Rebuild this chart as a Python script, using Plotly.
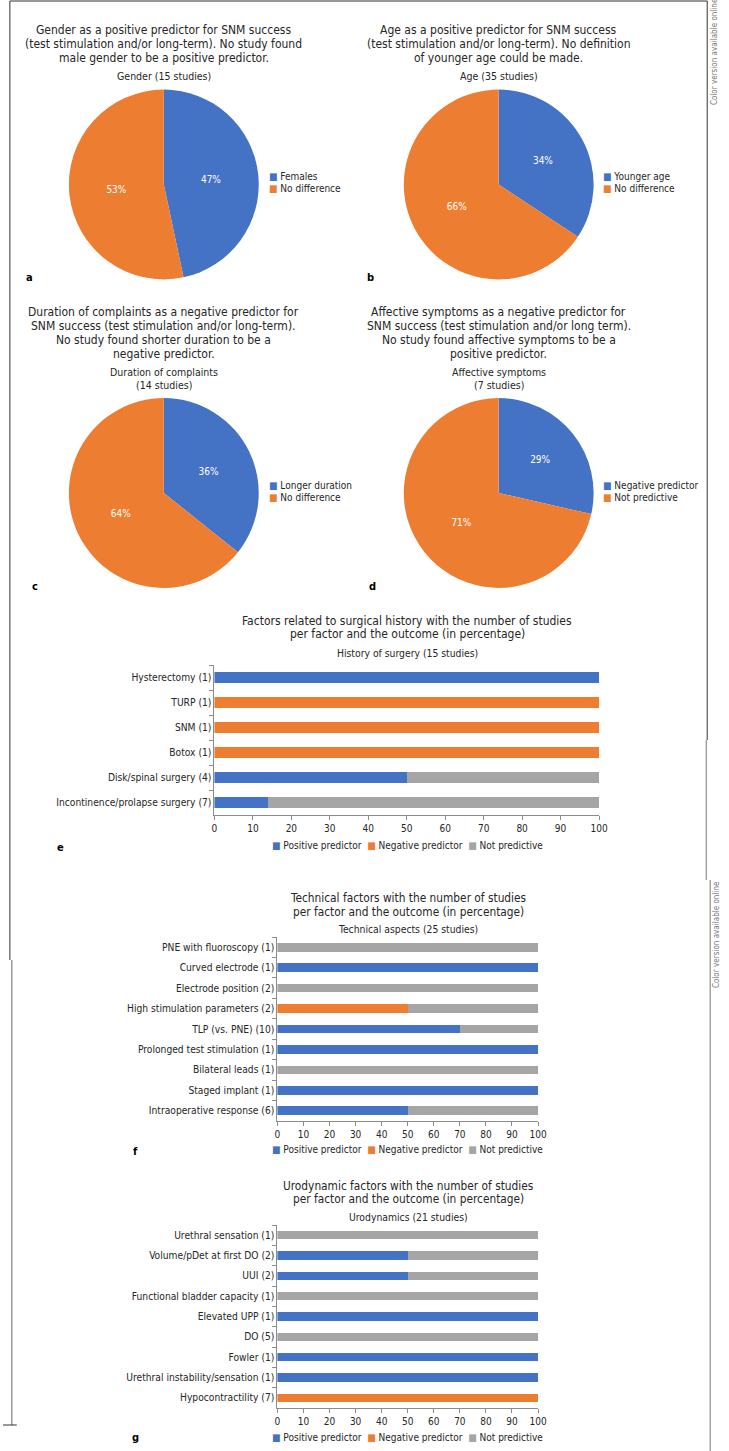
import plotly.graph_objects as go

W, H = 729, 1451
BLUE, ORANGE, GRAY = "#4472C4", "#ED7D31", "#A5A5A5"
FONT = "'Liberation Sans Narrow', 'DejaVu Sans Condensed', 'Open Sans', sans-serif"
TXT = "#262626"

# ---------------- data ----------------
pie_a_labels = ["Females", "No difference"]
pie_a_values = [7, 8]
pie_b_labels = ["Younger age", "No difference"]
pie_b_values = [12, 23]
pie_c_labels = ["Longer duration", "No difference"]
pie_c_values = [5, 9]
pie_d_labels = ["Negative predictor", "Not predictive"]
pie_d_values = [2, 5]

series_names = ["Positive predictor", "Negative predictor", "Not predictive"]
series_colors = [BLUE, ORANGE, GRAY]

e_cats = ["Hysterectomy (1)", "TURP (1)", "SNM (1)", "Botox (1)",
          "Disk/spinal surgery (4)", "Incontinence/prolapse surgery (7)"]
e_pos = [100, 0, 0, 0, 50, 14]
e_neg = [0, 100, 100, 100, 0, 0]
e_not = [0, 0, 0, 0, 50, 86]

f_cats = ["PNE with fluoroscopy (1)", "Curved electrode (1)", "Electrode position (2)",
          "High stimulation parameters (2)", "TLP (vs. PNE) (10)",
          "Prolonged test stimulation (1)", "Bilateral leads (1)", "Staged implant (1)",
          "Intraoperative response (6)"]
f_pos = [0, 100, 0, 0, 70, 100, 0, 100, 50]
f_neg = [0, 0, 0, 50, 0, 0, 0, 0, 0]
f_not = [100, 0, 100, 50, 30, 0, 100, 0, 50]

g_cats = ["Urethral sensation (1)", "Volume/pDet at first DO (2)", "UUI (2)",
          "Functional bladder capacity (1)", "Elevated UPP (1)", "DO (5)", "Fowler (1)",
          "Urethral instability/sensation (1)", "Hypocontractility (7)"]
g_pos = [0, 50, 50, 0, 100, 0, 100, 100, 0]
g_neg = [0, 0, 0, 0, 0, 0, 0, 0, 100]
g_not = [100, 50, 50, 100, 0, 100, 0, 0, 0]

x_ticks = [0, 10, 20, 30, 40, 50, 60, 70, 80, 90, 100]


def px(x):
    return x / W


def py(y):
    return 1 - y / H


fig = go.Figure()

# ---------------- pies ----------------
pies = [
    (pie_a_labels, pie_a_values, 163.5, 184.5),
    (pie_b_labels, pie_b_values, 504, 184.5),
    (pie_c_labels, pie_c_values, 163.5, 493),
    (pie_d_labels, pie_d_values, 504, 493),
]
R = 96.5
for labels, values, cx, cy in pies:
    fig.add_trace(go.Pie(
        labels=labels, values=values, sort=False, direction="clockwise", rotation=0,
        domain=dict(x=[px(cx - R), px(cx + R)], y=[py(cy + R), py(cy - R)]),
        marker=dict(colors=[BLUE, ORANGE], line=dict(width=0)),
        texttemplate="%{percent:.0%}", textposition="inside",
        insidetextorientation="horizontal",
        textfont=dict(color="white", size=10, family=FONT),
        hoverinfo="skip", showlegend=False,
    ))

# ---------------- bars ----------------
bar_sets = [
    (e_cats, [e_pos, e_neg, e_not], "x", "y"),
    (f_cats, [f_pos, f_neg, f_not], "x2", "y2"),
    (g_cats, [g_pos, g_neg, g_not], "x3", "y3"),
]
for cats, vals, xa, ya in bar_sets:
    for name, v, col in zip(series_names, vals, series_colors):
        fig.add_trace(go.Bar(
            x=v, y=cats, orientation="h", name=name, xaxis=xa, yaxis=ya,
            marker=dict(color=col, line=dict(width=0)), showlegend=False,
            hoverinfo="skip",
        ))

axis_col = "#8C8C8C"
xdom = {"xaxis": (215, 606), "xaxis2": (279, 544), "xaxis3": (279, 544)}
ydom = {"yaxis": (665, 815), "yaxis2": (937, 1121), "yaxis3": (1225, 1408)}
layout = {}
for i, (xk, yk) in enumerate(zip(xdom, ydom)):
    anchor_y = "y" if i == 0 else "y%d" % (i + 1)
    anchor_x = "x" if i == 0 else "x%d" % (i + 1)
    layout[xk] = dict(
        domain=[px(xdom[xk][0]), px(xdom[xk][1])], anchor=anchor_y,
        range=[0, 100], tickvals=x_ticks, showgrid=False, zeroline=False,
        showline=True, linecolor=axis_col, linewidth=1,
        ticks="outside", ticklen=4, tickcolor=axis_col,
        tickfont=dict(size=10, color=TXT, family=FONT), fixedrange=True,
    )
    layout[yk] = dict(
        domain=[py(ydom[yk][1]), py(ydom[yk][0])], anchor=anchor_x,
        autorange="reversed", type="category", showgrid=False, zeroline=False,
        showline=True, linecolor=axis_col, linewidth=1,
        ticks="outside", ticklen=4, tickcolor=axis_col, tickson="boundaries",
        tickfont=dict(size=10.2, color=TXT, family=FONT), fixedrange=True,
    )

# ---------------- text ----------------
ann = []


def text(x, y, s, size=11.5, bold=False, color=TXT, angle=0, xanchor="center"):
    ann.append(dict(x=px(x), y=py(y), xref="paper", yref="paper",
                    text=("<b>%s</b>" % s) if bold else s,
                    showarrow=False, xanchor=xanchor, yanchor="middle", textangle=angle,
                    font=dict(size=size, color=color, family=FONT)))


def swatch(col):
    return "<span style='color:%s'>\u25A0</span>" % col


# pie legends (square swatch + label)
pie_leg = [(pie_a_labels, 268, 176), (pie_b_labels, 608, 176),
           (pie_c_labels, 268, 485), (pie_d_labels, 608, 485)]
for labels, lx, ly in pie_leg:
    for j, (lab, col) in enumerate(zip(labels, [BLUE, ORANGE])):
        text(lx, ly + 12.5 * j, swatch(col) + "\u00a0" + lab, size=10, xanchor="left")

# bar legends
bar_leg_str = "\u00a0\u00a0".join(swatch(c) + "\u00a0" + n for n, c in zip(series_names, series_colors))
for lx, ly in [(411, 845), (411, 1149), (411, 1437)]:
    text(lx, ly, bar_leg_str, size=10)

title_a = ["Gender as a positive predictor for SNM success",
           "(test stimulation and/or long-term). No study found",
           "male gender to be a positive predictor."]
title_b = ["Age as a positive predictor for SNM success",
           "(test stimulation and/or long-term). No definition",
           "of younger age could be made."]
title_c = ["Duration of complaints as a negative predictor for",
           "SNM success (test stimulation and/or long-term).",
           "No study found shorter duration to be a",
           "negative predictor."]
title_d = ["Affective symptoms as a negative predictor for",
           "SNM success (test stimulation and/or long term).",
           "No study found affective symptoms to be a",
           "positive predictor."]
for lines, cx, y0 in [(title_a, 163.5, 30), (title_b, 504, 30),
                      (title_c, 163.5, 312), (title_d, 504, 312)]:
    for j, s in enumerate(lines):
        text(cx, y0 + 14 * j, s, size=12)

text(163.5, 76, "Gender (15 studies)", size=10.5)
text(504, 76, "Age (35 studies)", size=10.5)
text(163.5, 372, "Duration of complaints", size=10.5)
text(163.5, 385, "(14 studies)", size=10.5)
text(504, 372, "Affective symptoms", size=10.5)
text(504, 385, "(7 studies)", size=10.5)

text(411, 621, "Factors related to surgical history with the number of studies", size=12)
text(411, 634, "per factor and the outcome (in percentage)", size=12)
text(411, 653, "History of surgery (15 studies)", size=10.3)

text(412, 898, "Technical factors with the number of studies", size=11.8)
text(412, 912, "per factor and the outcome (in percentage)", size=11.8)
text(412, 929, "Technical aspects (25 studies)", size=10.3)

text(412, 1186, "Urodynamic factors with the number of studies", size=11.8)
text(412, 1199, "per factor and the outcome (in percentage)", size=11.8)
text(412, 1217, "Urodynamics (21 studies)", size=10.3)

for s, x, y in [("a", 27, 277), ("b", 374, 277), ("c", 33, 586), ("d", 376, 586),
                ("e", 58, 848), ("f", 135, 1151), ("g", 135, 1437)]:
    text(x, y, s, size=11, bold=True, color="#000")

text(723, 52, "Color version available online", size=8, color="#777", angle=-90)
text(725, 935, "Color version available online", size=8, color="#777", angle=-90)

# ---------------- frame lines (page decoration) ----------------
shapes = []


def line(x0, y0, x1, y1, col="#333", w=1):
    shapes.append(dict(type="line", xref="paper", yref="paper",
                       x0=px(x0), y0=py(y0), x1=px(x1), y1=py(y1),
                       line=dict(color=col, width=w)))


line(7, 1, 716, 1)
line(7, 1, 7, 960)
line(9, 960, 9, 1425, col="#666")
line(0, 1425, 14, 1425, col="#333")
line(716, 1, 716, 740)
line(715, 740, 715, 880, col="#777")
line(719, 880, 719, 1451, col="#777")

fig.update_layout(
    width=W, height=H, autosize=False,
    margin=dict(l=0, r=0, t=0, b=0),
    paper_bgcolor="white", plot_bgcolor="white",
    barmode="stack", bargap=0.58,
    annotations=ann, shapes=shapes,
    font=dict(family=FONT, color=TXT),
    **layout,
)

fig.write_html("out.html", config={"displayModeBar": False},
               post_script="document.body.style.margin='0px';")
